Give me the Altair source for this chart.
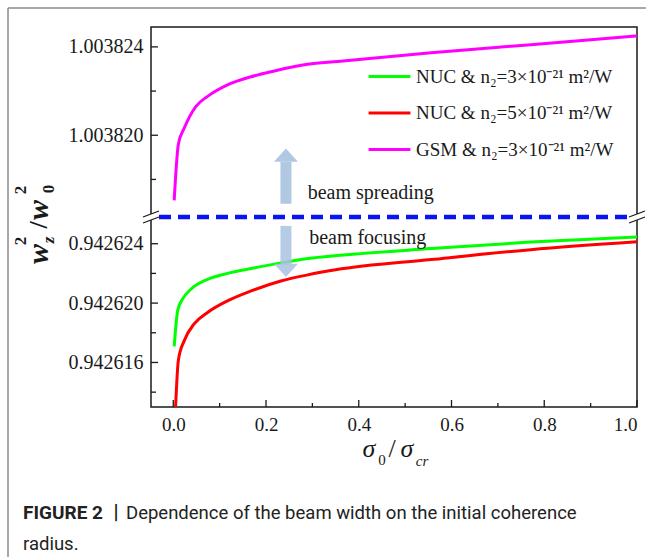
import altair as alt
import pandas as pd

# ---------------- data ----------------
series_names = ["NUC & n₂=3×10⁻²¹ m²/W", "NUC & n₂=5×10⁻²¹ m²/W", "GSM & n₂=3×10⁻²¹ m²/W"]
series_colors = ["#00ff00", "#ff0000", "#ff00ff"]

x_gsm = [0.002, 0.011, 0.024, 0.049, 0.074, 0.117, 0.168, 0.218, 0.290, 0.355, 0.556, 0.771, 1.0]
y_gsm = [1.00381705, 1.00381959, 1.00382034, 1.00382131, 1.00382176, 1.00382228, 1.00382265,
         1.00382291, 1.00382321, 1.00382334, 1.00382373, 1.00382410, 1.00382450]

x_nuc3 = [0.002, 0.0095, 0.020, 0.038, 0.074, 0.117, 0.168, 0.232, 0.290, 0.360, 0.556, 0.771, 1.0]
y_nuc3 = [0.94261709, 0.94261949, 0.94262027, 0.94262093, 0.94262160, 0.94262200, 0.94262233,
          0.94262271, 0.94262300, 0.94262322, 0.94262367, 0.94262411, 0.94262446]

x_nuc5 = [0.005, 0.011, 0.024, 0.045, 0.074, 0.117, 0.168, 0.232, 0.290, 0.350, 0.556, 0.771, 1.0]
y_nuc5 = [0.94261300, 0.94261615, 0.94261749, 0.94261860, 0.94261937, 0.94262015, 0.94262082,
          0.94262149, 0.94262190, 0.94262224, 0.94262293, 0.94262360, 0.94262413]

x_ticks_major = [0.0, 0.2, 0.4, 0.6, 0.8, 1.0]
x_ticks_minor = [0.1, 0.3, 0.5, 0.7, 0.9]
top_ticks_major = [1.003820, 1.003824]
top_ticks_minor = [1.003818, 1.003822]
bot_ticks_major = [0.942616, 0.942620, 0.942624]
bot_ticks_minor = [0.942614, 0.942618, 0.942622]

X_DOMAIN = [-0.048, 1.0]
TOP_DOMAIN = [1.0038163, 1.0038249]
BOT_DOMAIN = [0.9426130, 0.9426258]

arrow_x = [0.243]
up_shaft = [1.0038169, 1.0038188]
up_head = [1.0038191]
down_shaft = [0.9426252, 0.9426226]
down_head = [0.9426222]
spread_label = {"x": 0.29, "y": 1.0038174, "t": "beam spreading"}
focus_label = {"x": 0.293, "y": 0.9426244, "t": "beam focusing"}

# ---------------- styling ----------------
W, HT, HB = 486, 190, 190
SERIF = "Liberation Serif"
SANS = "Roboto"
INK = "#1a1a1a"
ARROW = "#a9c2e0"

xs = alt.Scale(domain=X_DOMAIN, nice=False, zero=False)
ys_top = alt.Scale(domain=TOP_DOMAIN, nice=False, zero=False)
ys_bot = alt.Scale(domain=BOT_DOMAIN, nice=False, zero=False)
color_scale = alt.Scale(domain=series_names, range=series_colors)

legend = alt.Legend(title=None, orient="none", legendX=216, legendY=27, symbolType="stroke",
                    symbolSize=1750, symbolStrokeWidth=3, labelFont=SERIF, labelFontSize=19,
                    labelColor=INK, rowPadding=3.5, labelOffset=4, padding=0, labelLimit=400)

def yaxis(vals):
    return alt.Axis(values=vals, format=".6f", title=None, ticks=False, domain=False, grid=False,
                    labelFont=SERIF, labelFontSize=20, labelColor=INK, labelPadding=8)

XAXIS = alt.Axis(values=x_ticks_major, format=".1f", title=None, ticks=False, domain=False, grid=False,
                 labelFont=SERIF, labelFontSize=19, labelColor=INK, labelPadding=8)
YAX_TOP = yaxis(top_ticks_major)
YAX_BOT = yaxis(bot_ticks_major)

top_df = pd.DataFrame({"x": x_gsm, "y": y_gsm, "series": series_names[2]})
bot_df = pd.concat([
    pd.DataFrame({"x": x_nuc3, "y": y_nuc3, "series": series_names[0]}),
    pd.DataFrame({"x": x_nuc5, "y": y_nuc5, "series": series_names[1]}),
])

def yticks(vals, scale, ax, length):
    return alt.Chart(pd.DataFrame({"y": vals})).mark_rule(color=INK, strokeWidth=1.3).encode(
        y=alt.Y("y:Q", scale=scale, axis=ax), x=alt.value(0), x2=alt.value(length))

# ---------------- top panel ----------------
top_line = alt.Chart(top_df).mark_line(strokeWidth=3, interpolate="monotone", clip=True).encode(
    x=alt.X("x:Q", scale=xs, axis=None),
    y=alt.Y("y:Q", scale=ys_top, axis=YAX_TOP),
    color=alt.Color("series:N", scale=color_scale, legend=legend),
)
up_rule = alt.Chart(pd.DataFrame({"x": arrow_x, "y": [up_shaft[0]], "y2": [up_shaft[1]]})).mark_rule(
    color=ARROW, strokeWidth=11, opacity=0.9).encode(
    x=alt.X("x:Q", scale=xs, axis=None), y=alt.Y("y:Q", scale=ys_top, axis=YAX_TOP), y2="y2:Q")
up_tri = alt.Chart(pd.DataFrame({"x": arrow_x, "y": up_head})).mark_point(
    shape="M-1,0.55L1,0.55L0,-0.55Z", filled=True, size=576, color=ARROW, opacity=0.9).encode(
    x=alt.X("x:Q", scale=xs, axis=None), y=alt.Y("y:Q", scale=ys_top, axis=YAX_TOP))
spread_txt = alt.Chart(pd.DataFrame([spread_label])).mark_text(
    align="left", baseline="middle", font=SERIF, fontSize=20, color=INK).encode(
    x=alt.X("x:Q", scale=xs, axis=None), y=alt.Y("y:Q", scale=ys_top, axis=YAX_TOP), text="t:N")

top = alt.layer(top_line, up_rule, up_tri, spread_txt,
                yticks(top_ticks_major, ys_top, YAX_TOP, 7), yticks(top_ticks_minor, ys_top, YAX_TOP, 5)
                ).properties(width=W, height=HT)

# ---------------- bottom panel ----------------
bot_lines = alt.Chart(bot_df).mark_line(strokeWidth=3, interpolate="monotone", clip=True).encode(
    x=alt.X("x:Q", scale=xs, axis=XAXIS),
    y=alt.Y("y:Q", scale=ys_bot, axis=YAX_BOT),
    color=alt.Color("series:N", scale=color_scale, legend=legend),
)

def xticks(vals, length):
    return alt.Chart(pd.DataFrame({"x": vals})).mark_rule(color=INK, strokeWidth=1.3).encode(
        x=alt.X("x:Q", scale=xs, axis=XAXIS), y=alt.value(HB), y2=alt.value(HB - length))

down_rule = alt.Chart(pd.DataFrame({"x": arrow_x, "y": [down_shaft[0]], "y2": [down_shaft[1]]})).mark_rule(
    color=ARROW, strokeWidth=11, opacity=0.85).encode(
    x=alt.X("x:Q", scale=xs, axis=XAXIS), y=alt.Y("y:Q", scale=ys_bot, axis=YAX_BOT), y2="y2:Q")
down_tri = alt.Chart(pd.DataFrame({"x": arrow_x, "y": down_head})).mark_point(
    shape="M-1,-0.55L1,-0.55L0,0.55Z", filled=True, size=576, color=ARROW, opacity=0.85).encode(
    x=alt.X("x:Q", scale=xs, axis=XAXIS), y=alt.Y("y:Q", scale=ys_bot, axis=YAX_BOT))
focus_txt = alt.Chart(pd.DataFrame([focus_label])).mark_text(
    align="left", baseline="middle", font=SERIF, fontSize=20, color=INK).encode(
    x=alt.X("x:Q", scale=xs, axis=XAXIS), y=alt.Y("y:Q", scale=ys_bot, axis=YAX_BOT), text="t:N")

# axis break: white gap, dashed w^2=1 line, slashes
dec = pd.DataFrame({"k": [0]})
gap = alt.Chart(dec).mark_rule(color="white", strokeWidth=6).encode(
    x=alt.value(-3), x2=alt.value(W + 3), y=alt.value(0))
dash = alt.Chart(dec).mark_rule(color="#0a14f0", strokeWidth=4.5, strokeDash=[12, 7]).encode(
    x=alt.value(8), x2=alt.value(W - 8), y=alt.value(0))
slashes = []
for cx in (0, W):
    for dy in (-3, 3):
        slashes.append(alt.Chart(dec).mark_rule(color=INK, strokeWidth=1.3).encode(
            x=alt.value(cx - 8), x2=alt.value(cx + 8), y=alt.value(dy + 3), y2=alt.value(dy - 3)))

def txt(t, x, y, size, style="normal", weight="normal", angle=0, align="center", font=SERIF, color=INK):
    kw = dict(text=t, font=font, fontSize=size, fontStyle=style, fontWeight=weight,
              align=align, baseline="alphabetic", color=color)
    if angle:
        kw["angle"] = angle
    return alt.Chart(dec).mark_text(**kw).encode(x=alt.value(x), y=alt.value(y))

# y title  w_z^2 / w_0^2 (rotated)
ytitle = [
    txt("w", -103, 37, 30, "italic", "bold", 270),
    txt("2", -125, 24, 17, "normal", "bold", 270),
    txt("z", -97, 23, 17, "italic", "bold", 270),
    txt("/", -104, 8, 26, "normal", "bold", 270),
    txt("w", -103, -7, 30, "italic", "bold", 270),
    txt("2", -125, -27, 17, "normal", "bold", 270),
    txt("0", -97, -28, 17, "normal", "bold", 270),
]
# x title  sigma_0 / sigma_cr
xtitle = [
    txt("σ", 218, 240, 26, "italic"),
    txt("0", 231, 248, 15),
    txt("/", 241, 240, 26),
    txt("σ", 256, 240, 26, "italic"),
    txt("cr", 271, 249, 15, "italic"),
]
caption = [
    txt("FIGURE 2", -128, 302, 19, weight="bold", align="left", font=SANS, color="#222"),
    txt("|", -35, 302, 20, weight="bold", align="center", font=SANS, color="#222"),
    txt("Dependence of the beam width on the initial coherence", -25, 302, 18.5, align="left",
        font=SANS, color="#222"),
    txt("radius.", -128, 333, 18.5, align="left", font=SANS, color="#222"),
]
frame = [
    alt.Chart(dec).mark_rule(color="#8a8a8a", strokeWidth=1.5).encode(
        x=alt.value(-143), y=alt.value(-209), y2=alt.value(340)),
    alt.Chart(dec).mark_rule(color="#8a8a8a", strokeWidth=1.5).encode(
        x=alt.value(-143), x2=alt.value(495), y=alt.value(-209)),
]

bottom = alt.layer(
    bot_lines, down_rule, down_tri, focus_txt,
    yticks(bot_ticks_major, ys_bot, YAX_BOT, 7), yticks(bot_ticks_minor, ys_bot, YAX_BOT, 5),
    xticks(x_ticks_major, 7), xticks(x_ticks_minor, 4),
    gap, dash, *slashes, *ytitle, *xtitle, *caption, *frame,
).properties(width=W, height=HB)

chart = alt.vconcat(top, bottom, spacing=0, bounds="flush").resolve_scale(
    color="shared").resolve_legend(color="shared").properties(
    padding={"left": 6, "top": 6, "right": 0, "bottom": 0}, background="white"
).configure_view(stroke=INK, strokeWidth=1.5)

chart.save("out.html", embed_options={"renderer": "svg", "actions": False})
